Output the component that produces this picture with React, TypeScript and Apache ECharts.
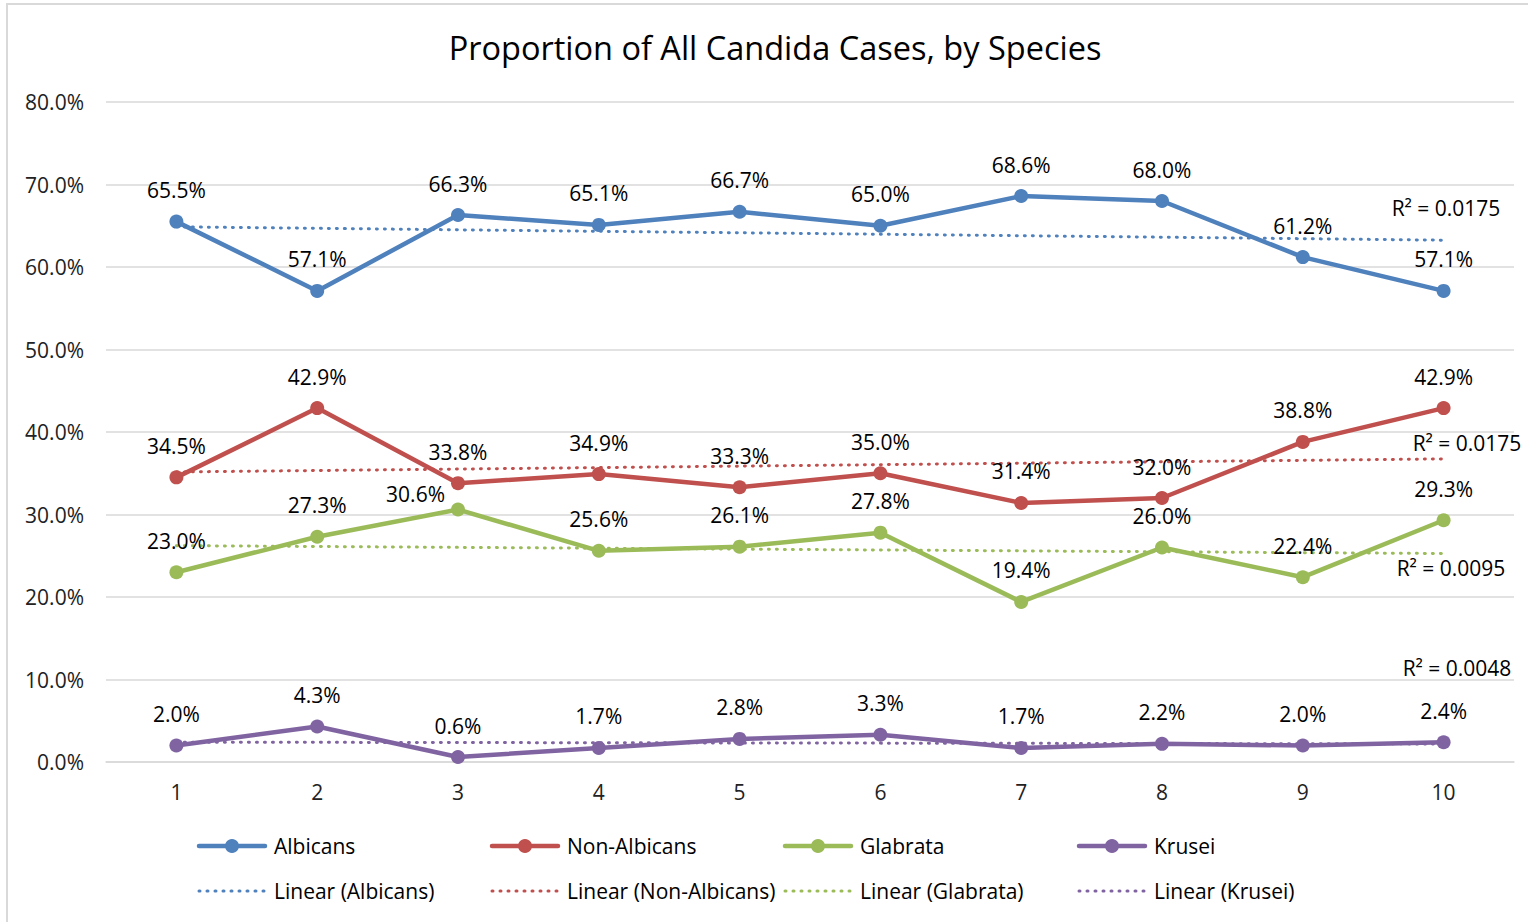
import React, { useEffect, useRef } from "react";
import * as echarts from "echarts";

const categories = ["1", "2", "3", "4", "5", "6", "7", "8", "9", "10"];
const albicans = [65.5, 57.1, 66.3, 65.1, 66.7, 65.0, 68.6, 68.0, 61.2, 57.1];
const nonAlbicans = [34.5, 42.9, 33.8, 34.9, 33.3, 35.0, 31.4, 32.0, 38.8, 42.9];
const glabrata = [23.0, 27.3, 30.6, 25.6, 26.1, 27.8, 19.4, 26.0, 22.4, 29.3];
const krusei = [2.0, 4.3, 0.6, 1.7, 2.8, 3.3, 1.7, 2.2, 2.0, 2.4];
const seriesNames = ["Albicans", "Non-Albicans", "Glabrata", "Krusei"];
const rSquared = ["R² = 0.0175", "R² = 0.0175", "R² = 0.0095", "R² = 0.0048"];
const yTicks = [0, 10, 20, 30, 40, 50, 60, 70, 80];

const COLORS = ["#4F81BD", "#C0504D", "#9BBB59", "#8064A2"];
const FONT = "'Open Sans', sans-serif";
const DOT = [1, 7];

function linearTrend(values: number[]): number[] {
  const n = values.length;
  const xs = values.map((_, i) => i + 1);
  const mx = xs.reduce((a, b) => a + b, 0) / n;
  const my = values.reduce((a, b) => a + b, 0) / n;
  let sxy = 0;
  let sxx = 0;
  for (let i = 0; i < n; i++) {
    sxy += (xs[i] - mx) * (values[i] - my);
    sxx += (xs[i] - mx) * (xs[i] - mx);
  }
  const slope = sxy / sxx;
  return xs.map((x) => +(my + slope * (x - mx)).toFixed(3));
}

export default function App() {
  const ref = useRef<HTMLDivElement>(null);

  useEffect(() => {
    if (!ref.current) return;
    const chart = echarts.init(ref.current, null, { renderer: "svg" });
    const datasets = [albicans, nonAlbicans, glabrata, krusei];

    const mainSeries = datasets.map((data, si) => ({
      name: seriesNames[si],
      type: "line",
      data: data.map((v, i) => {
        if (si === 2 && i === 2) {
          return {
            value: v,
            label: { position: "left", distance: 6, offset: [0, -16] },
          };
        }
        return v;
      }),
      z: 5,
      symbol: "circle",
      symbolSize: 14,
      lineStyle: { color: COLORS[si], width: 4.5, cap: "round", join: "round" },
      itemStyle: { color: COLORS[si] },
      label: {
        show: true,
        position: "top",
        distance: 14,
        formatter: (p: any) => `${Number(p.value).toFixed(1)}%`,
        fontFamily: FONT,
        fontSize: 21,
        color: "#000",
      },
    }));

    const trendSeries = datasets.map((data, si) => ({
      name: `Linear (${seriesNames[si]})`,
      type: "line",
      data: linearTrend(data),
      z: 3,
      symbol: "none",
      silent: true,
      lineStyle: { color: COLORS[si], width: 3, type: DOT, cap: "round" },
      itemStyle: { color: COLORS[si] },
    }));

    const legendX = [197, 490, 783, 1077];
    const rowY = [846, 891];
    const legendGraphics: any[] = [];
    seriesNames.forEach((n, i) => {
      const x0 = legendX[i];
      legendGraphics.push(
        {
          type: "line",
          shape: { x1: x0 + 2, y1: rowY[0], x2: x0 + 68, y2: rowY[0] },
          style: { stroke: COLORS[i], lineWidth: 4.5, lineCap: "round" },
          silent: true,
        },
        {
          type: "circle",
          shape: { cx: x0 + 35, cy: rowY[0], r: 7 },
          style: { fill: COLORS[i] },
          silent: true,
        },
        {
          type: "text",
          x: x0 + 77,
          y: rowY[0],
          style: {
            text: n,
            fill: "#000",
            font: `21px ${FONT}`,
            textAlign: "left",
            textVerticalAlign: "middle",
          },
        },
        {
          type: "line",
          shape: { x1: x0 + 2, y1: rowY[1], x2: x0 + 68, y2: rowY[1] },
          style: { stroke: COLORS[i], lineWidth: 3, lineCap: "round", lineDash: DOT },
          silent: true,
        },
        {
          type: "text",
          x: x0 + 77,
          y: rowY[1],
          style: {
            text: `Linear (${n})`,
            fill: "#000",
            font: `21px ${FONT}`,
            textAlign: "left",
            textVerticalAlign: "middle",
          },
        }
      );
    });

    const rPos = [
      [1446, 208],
      [1467, 443],
      [1451, 568],
      [1457, 668],
    ];

    chart.setOption({
      animation: false,
      backgroundColor: "#fff",
      title: {
        text: "Proportion of All Candida Cases, by Species",
        left: 770,
        top: 26,
        textAlign: "center",
        textStyle: { fontFamily: FONT, fontSize: 32.5, fontWeight: "normal", color: "#000" },
      },
      grid: { left: 106, right: 14, top: 102, bottom: 160, containLabel: false },
      xAxis: {
        type: "category",
        data: categories,
        boundaryGap: true,
        axisLine: { show: true, lineStyle: { color: "#D9D9D9", width: 1.5 } },
        axisTick: { show: false },
        axisLabel: { fontFamily: FONT, fontSize: 21, color: "#222", margin: 19 },
      },
      yAxis: {
        type: "value",
        min: yTicks[0],
        max: yTicks[yTicks.length - 1],
        interval: 10,
        axisLine: { show: false },
        axisTick: { show: false },
        splitLine: { lineStyle: { color: "#D9D9D9", width: 1.5 } },
        axisLabel: {
          fontFamily: FONT,
          fontSize: 21,
          color: "#222",
          margin: 22,
          formatter: (v: number) => `${v.toFixed(1)}%`,
        },
      },
      graphic: [
        {
          type: "rect",
          shape: { x: 7, y: 4, width: 1600, height: 1000 },
          style: { fill: "none", stroke: "#D9D9D9", lineWidth: 2 },
          silent: true,
          z: -10,
        },
        ...rSquared.map((t, i) => ({
          type: "text",
          x: rPos[i][0],
          y: rPos[i][1],
          style: {
            text: t,
            fill: "#000",
            font: `21px ${FONT}`,
            textAlign: "center",
            textVerticalAlign: "middle",
          },
          z: 20,
        })),
        ...legendGraphics,
      ],
      series: [...trendSeries, ...mainSeries],
    });

    return () => chart.dispose();
  }, []);

  return (
    <div
      ref={ref}
      style={{ position: "fixed", left: 0, top: 0, width: 1528, height: 922, background: "#fff" }}
    />
  );
}
